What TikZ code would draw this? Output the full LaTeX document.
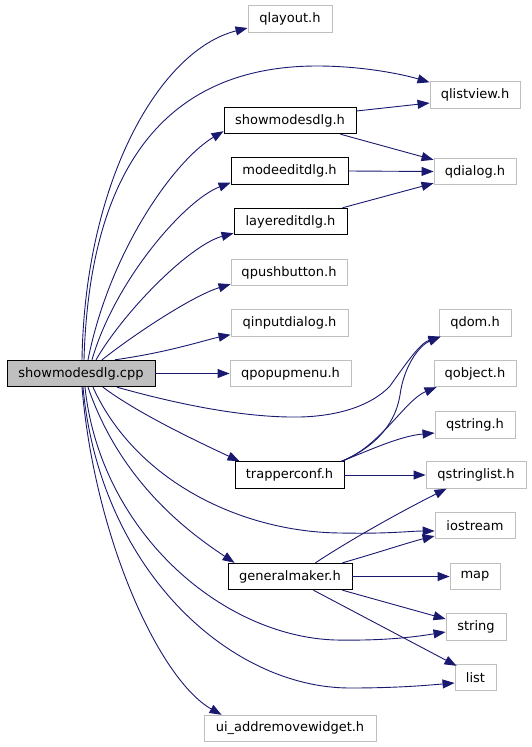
\documentclass[tikz,border=0pt]{standalone}
\usepackage{fontspec}
\setmainfont{DejaVu Sans}
\usetikzlibrary{arrows.meta}
\definecolor{edgeblue}{HTML}{191970}
\definecolor{boxgray}{HTML}{BFBFBF}

\begin{document}
\begin{tikzpicture}[x=1pt, y=-1pt,
    hdr/.style={draw=black, line width=0.9pt, fill=white, inner sep=0pt,
                minimum height=26.5pt, font=\fontsize{13}{15}\selectfont},
    ext/.style={hdr, draw=boxgray},
    rootfile/.style={hdr, fill=boxgray},
    dep/.style={-{Triangle[length=12pt,width=9pt]}, draw=edgeblue, line width=0.9pt}
  ]
    \useasboundingbox (0,0) rectangle (531,747);

    % source file
    \node[rootfile, minimum width=148pt] (root) at (81,373.5) {showmodesdlg.cpp};

    % first column
    \node[ext, minimum width=84pt]  (qlayout)      at (290,19)    {qlayout.h};
    \node[hdr, minimum width=132pt] (showmodesdlgh) at (290,120.5) {showmodesdlg.h};
    \node[hdr, minimum width=117pt] (modeeditdlg)  at (289.5,171) {modeeditdlg.h};
    \node[hdr, minimum width=113pt] (layereditdlg) at (290.5,221.5) {layereditdlg.h};
    \node[ext, minimum width=116pt] (qpushbutton)  at (289,272.5) {qpushbutton.h};
    \node[ext, minimum width=117pt] (qinputdialog) at (289.5,323) {qinputdialog.h};
    \node[ext, minimum width=121pt] (qpopupmenu)   at (290.5,373.5) {qpopupmenu.h};
    \node[hdr, minimum width=109pt] (trapperconf)  at (289.5,475) {trapperconf.h};
    \node[hdr, minimum width=124pt] (generalmaker) at (290,576.5) {generalmaker.h};
    \node[ext, minimum width=172pt] (uiwidget)     at (290,728.5) {ui\_addremovewidget.h};

    % second column
    \node[ext, minimum width=90pt]  (qlistview)   at (475,95)    {qlistview.h};
    \node[ext, minimum width=82pt]  (qdialog)     at (475,171.5) {qdialog.h};
    \node[ext, minimum width=72pt]  (qdom)        at (475,323)   {qdom.h};
    \node[ext, minimum width=82pt]  (qobject)     at (475,373.5) {qobject.h};
    \node[ext, minimum width=80pt]  (qstring)     at (475,425)   {qstring.h};
    \node[ext, minimum width=100pt] (qstringlist) at (476,475)   {qstringlist.h};
    \node[ext, minimum width=80pt]  (iostream)    at (475,525.5) {iostream};
    \node[ext, minimum width=50pt]  (map)         at (475,576.5) {map};
    \node[ext, minimum width=60pt]  (string)      at (476,627)   {string};
    \node[ext, minimum width=41pt]  (list)        at (475.5,677.5) {list};

    % includes of the source file, upwards
    \draw[dep] ([xshift=1pt]root.north) .. controls (85,180) and (160,50) .. ([yshift=-9pt]qlayout.west);
    \draw[dep] ([xshift=3pt]root.north) .. controls (90,150) and (180,66) .. (317,66)
      .. controls (365,66) and (405,75) .. ([yshift=-1pt]qlistview.north west);
    \draw[dep] ([xshift=7pt]root.north) .. controls (110,250) and (175,160) .. ([yshift=3pt]showmodesdlgh.south west);
    \draw[dep] ([xshift=11pt]root.north) .. controls (115,280) and (185,200) .. ([yshift=2pt]modeeditdlg.south west);
    \draw[dep] ([xshift=15pt]root.north) .. controls (125,310) and (190,245) .. ([yshift=2pt]layereditdlg.south west);
    \draw[dep] ([xshift=21pt]root.north) .. controls (140,330) and (195,295) .. ([yshift=2pt]qpushbutton.south west);
    \draw[dep] ([xshift=34pt]root.north) .. controls (170,352) and (205,340) .. ([yshift=2pt]qinputdialog.south west);
    \draw[dep] (root.east) -- (qpopupmenu.west);

    % includes of the source file, downwards
    \draw[dep] ([xshift=36pt]root.south) .. controls (170,402) and (240,418) .. (300,417)
      .. controls (340,416) and (372,405) .. (390,386)
      .. controls (405,365) and (420,343) .. ([xshift=2pt]qdom.south west);
    \draw[dep] ([xshift=22pt]root.south) .. controls (140,415) and (205,445) .. ([xshift=5pt]trapperconf.north west);
    \draw[dep] ([xshift=12pt]root.south) .. controls (135,480) and (240,532) .. (340,533)
      .. controls (390,534) and (410,531) .. ([yshift=-5.5pt]iostream.west);
    \draw[dep] ([xshift=7pt]root.south) .. controls (120,480) and (185,530) .. ([xshift=7pt]generalmaker.north west);
    \draw[dep] ([xshift=4pt]root.south) .. controls (100,530) and (220,636) .. (335,640)
      .. controls (390,641) and (420,636) .. ([yshift=-5pt]string.west);
    \draw[dep] ([xshift=2pt]root.south) .. controls (100,570) and (230,688) .. (350,688)
      .. controls (400,688) and (430,685) .. ([yshift=-5.5pt]list.west);
    \draw[dep] ([xshift=1pt]root.south) .. controls (95,540) and (160,680) .. ([xshift=18pt]uiwidget.north west);

    % dialogs
    \draw[dep] ([yshift=9.5pt]showmodesdlgh.east) -- ([yshift=-8pt]qlistview.west);
    \draw[dep] ([xshift=-16pt]showmodesdlgh.south east) -- ([yshift=-2pt]qdialog.north west);
    \draw[dep] (modeeditdlg.east) -- (qdialog.west);
    \draw[dep] ([xshift=-5pt]layereditdlg.north east) -- ([yshift=2pt]qdialog.south west);

    % trapperconf.h
    \draw[dep] ([xshift=-3pt]trapperconf.north east) .. controls (380,445) and (396,420) .. (400,395)
      .. controls (404,365) and (420,345) .. ([xshift=2pt]qdom.south west);
    \draw[dep] ([xshift=-3pt]trapperconf.north east) .. controls (380,447) and (405,400) .. ([xshift=3pt]qobject.south west);
    \draw[dep] ([xshift=-3pt]trapperconf.north east) .. controls (370,450) and (400,436) .. ([yshift=-8pt]qstring.west);
    \draw[dep] (trapperconf.east) -- (qstringlist.west);

    % generalmaker.h
    \draw[dep] ([xshift=-37pt]generalmaker.north east) .. controls (350,540) and (400,512) .. ([xshift=21pt]qstringlist.south west);
    \draw[dep] ([xshift=-10pt]generalmaker.north east) .. controls (380,552) and (410,542) .. ([yshift=-10.5pt]iostream.west);
    \draw[dep] (generalmaker.east) -- (map.west);
    \draw[dep] ([xshift=-10pt]generalmaker.south east) -- ([yshift=8pt]string.west);
    \draw[dep] ([xshift=-39pt]generalmaker.south east) -- ([xshift=2pt,yshift=-2pt]list.north west);
\end{tikzpicture}
\end{document}
